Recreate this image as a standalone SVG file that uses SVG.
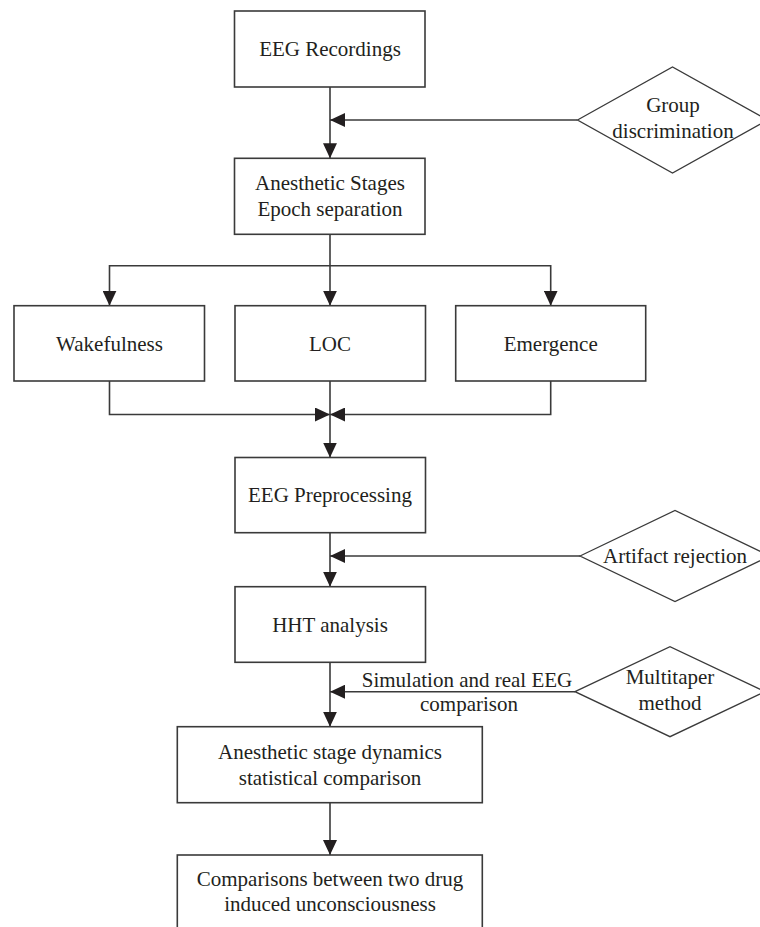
<svg xmlns="http://www.w3.org/2000/svg" width="760" height="927" viewBox="0 0 760 927">
<style>
.box{fill:#fff;stroke:#3a3a3a;stroke-width:1.6}
.dia{fill:#fff;stroke:#3a3a3a;stroke-width:1.3}
.ln{fill:none;stroke:#3a3a3a;stroke-width:1.6}
text{font-family:"Liberation Serif","Times New Roman",serif;font-size:21px;fill:#231f20;text-anchor:middle}
</style>
<defs>
<marker id="ah" viewBox="0 0 15 14" refX="15" refY="7" markerWidth="15" markerHeight="14" markerUnits="userSpaceOnUse" orient="auto">
<path d="M0,0 L15,7 L0,14 z" fill="#231f20"/>
</marker>
</defs>
<rect width="760" height="927" fill="#fff"/>
<g id="connectors">
<path class="ln" d="M330,87 V158.3" marker-end="url(#ah)"/>
<path class="ln" d="M577.5,120 H330" marker-end="url(#ah)"/>
<path class="ln" d="M330,234.3 V305.7" marker-end="url(#ah)"/>
<path class="ln" d="M330,265.7 H109.5 V305.7" marker-end="url(#ah)"/>
<path class="ln" d="M330,265.7 H550.7 V305.7" marker-end="url(#ah)"/>
<path class="ln" d="M109.5,381 V414.5 H330" marker-end="url(#ah)"/>
<path class="ln" d="M550.7,381 V414.5 H330" marker-end="url(#ah)"/>
<path class="ln" d="M330,381 V457.5" marker-end="url(#ah)"/>
<path class="ln" d="M330,532.7 V586.7" marker-end="url(#ah)"/>
<path class="ln" d="M580,556 H330" marker-end="url(#ah)"/>
<path class="ln" d="M330,662.3 V726.7" marker-end="url(#ah)"/>
<path class="ln" d="M575,691.7 H330" marker-end="url(#ah)"/>
<path class="ln" d="M330,802.7 V855" marker-end="url(#ah)"/>
<text x="467" y="687">Simulation and real EEG</text>
<text x="469" y="711">comparison</text>
</g>
<g id="eeg-recordings">
<rect class="box" x="234.5" y="11" width="190.5" height="76"/>
<text x="330" y="55.5">EEG Recordings</text>
</g>
<g id="group-discrimination">
<polygon class="dia" points="577.5,120 672.5,67 767.5,120 672.5,173"/>
<text x="673" y="112">Group</text>
<text x="673" y="138">discrimination</text>
</g>
<g id="anesthetic-stages">
<rect class="box" x="234.5" y="158.3" width="190.5" height="76"/>
<text x="330" y="190.3">Anesthetic Stages</text>
<text x="330" y="216.3">Epoch separation</text>
</g>
<g id="wakefulness">
<rect class="box" x="14" y="305.7" width="190.5" height="75.3"/>
<text x="109.5" y="350.5">Wakefulness</text>
</g>
<g id="loc">
<rect class="box" x="235" y="305.7" width="190.5" height="75.3"/>
<text x="330" y="350.5">LOC</text>
</g>
<g id="emergence">
<rect class="box" x="455.7" y="305.7" width="190" height="75.3"/>
<text x="550.7" y="350.5">Emergence</text>
</g>
<g id="eeg-preprocessing">
<rect class="box" x="235" y="457.5" width="190.5" height="75.2"/>
<text x="330" y="502">EEG Preprocessing</text>
</g>
<g id="artifact-rejection">
<polygon class="dia" points="580,556 675,510.5 770,556 675,601.5"/>
<text x="675" y="563">Artifact rejection</text>
</g>
<g id="hht-analysis">
<rect class="box" x="235" y="586.7" width="190.5" height="75.6"/>
<text x="330" y="631.5">HHT analysis</text>
</g>
<g id="multitaper-method">
<polygon class="dia" points="575,691.7 670,646.7 765,691.7 670,736.7"/>
<text x="670" y="684">Multitaper</text>
<text x="670" y="710">method</text>
</g>
<g id="stage-dynamics">
<rect class="box" x="177.3" y="726.7" width="305" height="76"/>
<text x="330" y="758.7">Anesthetic stage dynamics</text>
<text x="330" y="784.7">statistical comparison</text>
</g>
<g id="drug-comparison">
<rect class="box" x="177.3" y="855" width="305" height="80"/>
<text x="330" y="886">Comparisons between two drug</text>
<text x="330" y="911">induced unconsciousness</text>
</g>
</svg>
